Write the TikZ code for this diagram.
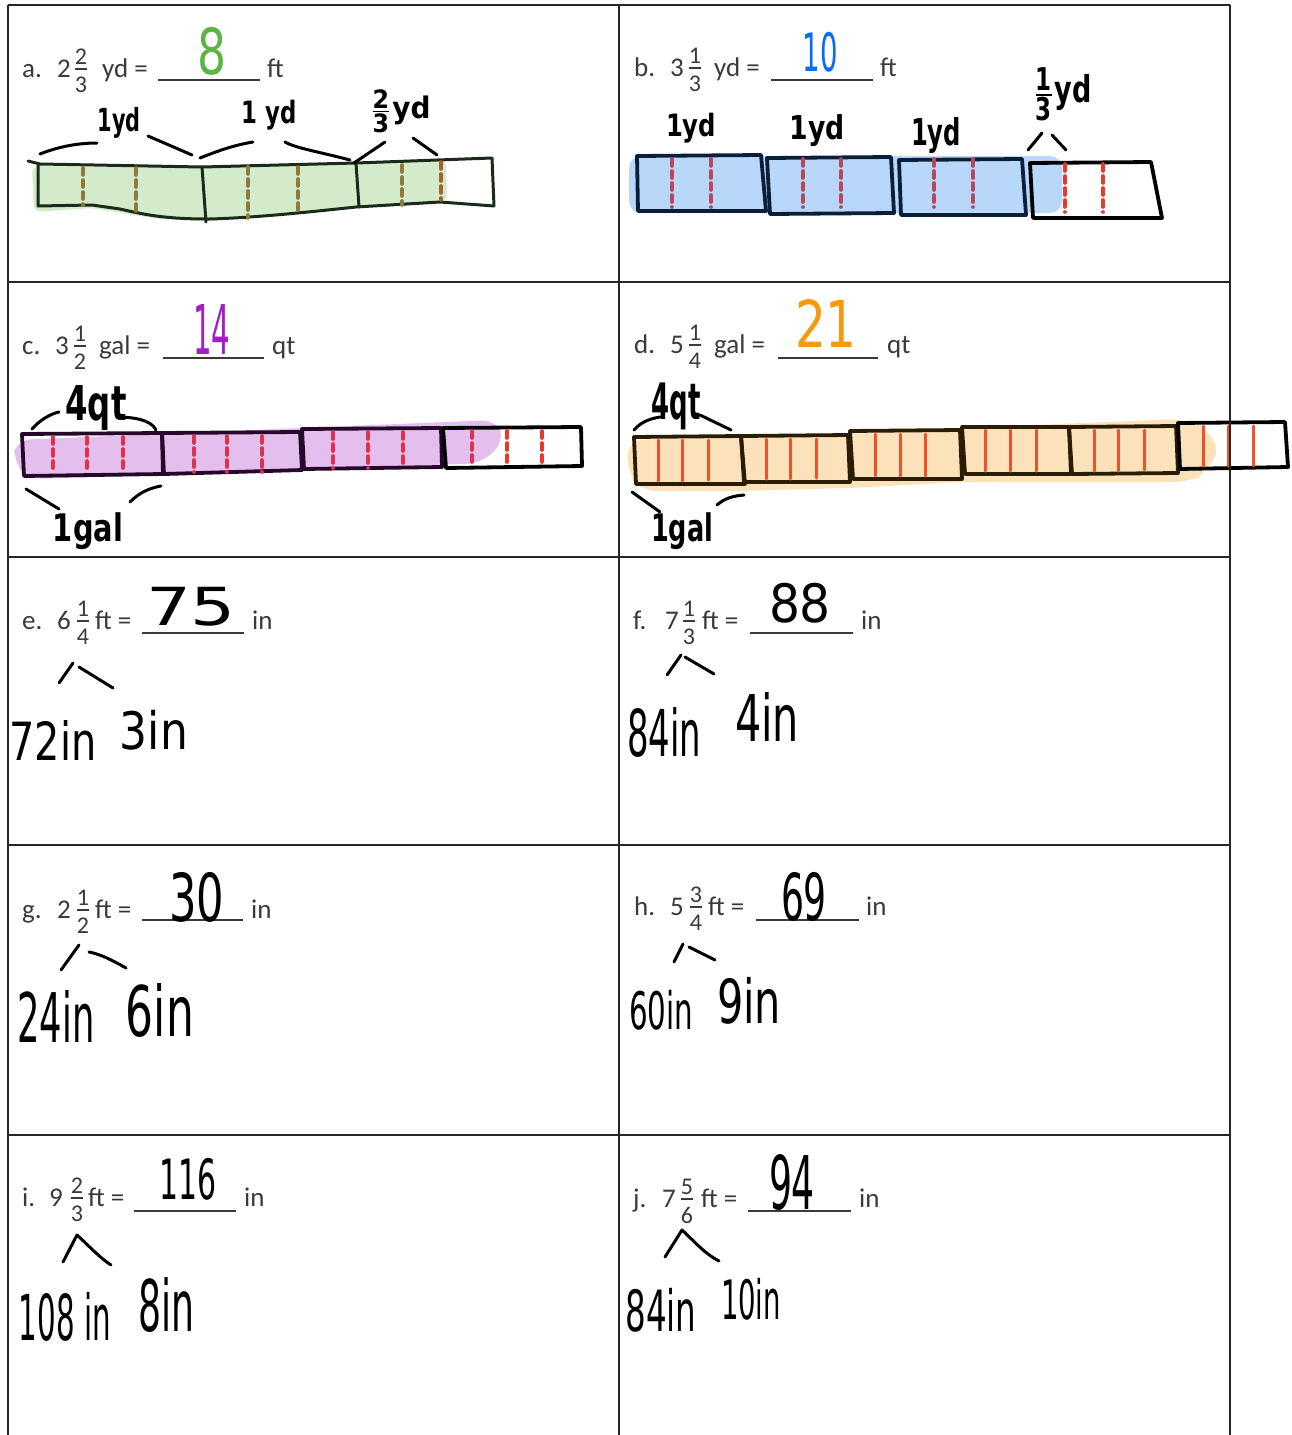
\documentclass[tikz,border=0pt]{standalone}
\usepackage{fontspec}
\usepackage{graphicx}
\setmainfont{Carlito}
\newfontfamily\handf{DejaVu Sans Condensed}
\definecolor{tg}{HTML}{3A3A3A}
\definecolor{ansG}{HTML}{5BB544}
\definecolor{ansB}{HTML}{0A6EF0}
\definecolor{ansP}{HTML}{A31CC4}
\definecolor{ansO}{HTML}{F59A0C}
\definecolor{gfill}{HTML}{D3EACB}
\definecolor{gline}{HTML}{1B2B1B}
\definecolor{olivec}{HTML}{8E7B3C}
\definecolor{rustb}{HTML}{A4622E}
\definecolor{bfill}{HTML}{B9D7F9}
\definecolor{navyc}{HTML}{0B1E3A}
\definecolor{maroonr}{HTML}{B8465E}
\definecolor{redr}{HTML}{E8382B}
\definecolor{pfill}{HTML}{E4BEEC}
\definecolor{plum}{HTML}{26082A}
\definecolor{crim}{HTML}{E0304E}
\definecolor{ofill}{HTML}{FCE2BA}
\definecolor{obrown}{HTML}{2B1C06}
\definecolor{oline}{HTML}{F0502A}
\newcommand\pfont{\fontsize{27}{32}\selectfont}
\newcommand\frfont{\fontsize{24}{27}\selectfont}
\newcommand\hw[3]{\resizebox*{#1pt}{#2pt}{\handf #3}}
\newcommand\hwb[3]{\resizebox*{#1pt}{#2pt}{\handf\bfseries #3}}
\newcommand\stk[2]{\scalebox{0.85}{$\frac{\mbox{\handf\bfseries #1}}{\mbox{\handf\bfseries #2}}$}}
\tikzset{
  gridl/.style={draw=black!85, line width=1.6pt},
  ptxt/.style={font=\pfont, text=tg, inner sep=0, anchor=base west},
  frtxt/.style={font=\frfont, text=tg, inner sep=0},
  fbar/.style={draw=tg, line width=1.6pt},
  uline/.style={draw=tg, line width=1.4pt},
  hand/.style={inner sep=0, text=black},
  ink/.style={draw=black, line width=3pt, line cap=round, line join=round},
  boxk/.style={line width=3.8pt, line join=round, line cap=round},
  dashk/.style={line width=3.6pt, dash pattern=on 7pt off 5pt, line cap=round},
  solk/.style={line width=3pt, draw=oline, line cap=round},
}
% question row: id, label x, baseline, label, whole x, whole, frac cx, num, den
\newcommand\qrow[9]{%
  \node[ptxt] (#1lab) at (#2,#3) {#4};
  \node[ptxt] (#1whole) at (#5,#3) {#6};
  \node[frtxt, anchor=south] (#1num) at (#7,#3-12) {#8};
  \node[frtxt, anchor=north] (#1den) at (#7,#3) {#9};
  \draw[fbar] (#7-6,#3-8) -- (#7+6,#3-8);
}
% rest: id, text x, baseline, text, ul x1, ul x2, ul y, unit x, unit
\newcommand\qrest[9]{%
  \node[ptxt] (#1eq) at (#2,#3) {#4};
  \draw[uline] (#5,#7) -- (#6,#7);
  \node[ptxt] (#1unit) at (#8,#3) {#9};
}
\begin{document}
\begin{tikzpicture}[x=1pt,y=-1pt]
\useasboundingbox (0,0) rectangle (1291,1435);
\fill[white] (0,0) rectangle (1291,1435);

% ================= BAR DIAGRAMS (drawn first) =================
% ---- a ----
\fill[gfill, rounded corners=7] (32,166) -- (202,168) -- (356,164) -- (446,160) -- (447,201) -- (356,208) -- (209,221) -- (158,219) -- (92,208) -- (34,212) -- cycle;
\draw[boxk, draw=gline, line width=3pt] (28,161) -- (40,164) -- (202,167) -- (356,163) -- (492,158) -- (494,206) -- (440,202) -- (356,207) .. controls (300,213) and (250,218) .. (209,219) .. controls (170,219) and (150,216) .. (120,209) -- (92,205) -- (38,206) -- (38,164);
\draw[boxk, draw=gline, line width=3pt] (202,167) -- (206,222);
\draw[boxk, draw=gline, line width=3pt] (356,163) -- (359,207);
\foreach \x/\a/\b in {83/168/205, 136/168/215, 248/167/218, 298/167/210, 402/165/205}
  \draw[dashk, draw=olivec] (\x,\a) -- (\x,\b);
\draw[dashk, draw=rustb] (441,162) -- (441,200);
\draw[ink] (40,154) .. controls (60,146) and (80,143) .. (97,143);
\draw[ink] (148,136) -- (192,155);
\draw[ink] (200,158) .. controls (220,150) and (235,145) .. (253,142);
\draw[ink] (285,142) .. controls (295,148) and (320,152) .. (350,160);
\draw[ink] (354,163) -- (385,142);
\draw[ink] (413,138) -- (437,155);
\node[hand] (a1yd) at (119,123) {\hwb{43}{31}{1yd}};
\node[hand] (a2yd) at (269,115) {\hwb{55}{30}{1 yd}};
\node[hand] (a3yd) at (400,111) {\hwb{61}{43}{\stk{2}{3}yd}};

% ---- b ----
\fill[bfill, rounded corners=12] (629,156) rectangle (1062,213);
\draw[boxk, draw=navyc] (637,156) -- (761,155) -- (766,211) -- (638,211) -- cycle;
\draw[boxk, draw=navyc] (767,158) -- (891,157) -- (894,213) -- (770,214) -- cycle;
\draw[boxk, draw=navyc] (899,160) -- (1022,159) -- (1026,215) -- (901,215) -- cycle;
\draw[boxk, draw=black] (1030,163) -- (1151,162) -- (1162,218) -- (1033,218) -- cycle;
\foreach \x in {672,711,803,841,934,973}
  \draw[dashk, draw=maroonr] (\x,159) -- (\x,207);
\foreach \x in {1065,1103}
  \draw[dashk, draw=redr] (\x,164) -- (\x,212);
\draw[ink] (1028,150) -- (1042,133);
\draw[ink] (1052,135) -- (1066,150);
\node[hand] (b1yd) at (691,128) {\hwb{50}{30}{1yd}};
\node[hand] (b2yd) at (817,131) {\hwb{55}{32}{1yd}};
\node[hand] (b3yd) at (936,135) {\hwb{50}{36}{1yd}};
\node[hand] (b4yd) at (1062,94) {\hwb{59}{53}{\stk{1}{3}yd}};

% ---- c ----
\fill[pfill, rounded corners=14] (16,440) -- (300,428) -- (496,420) -- (505,440) -- (482,463) -- (300,471) -- (30,479) -- (13,462) -- cycle;
\draw[boxk, draw=plum] (22,434) -- (162,433) -- (163,474) -- (24,476) -- cycle;
\draw[boxk, draw=plum] (162,433) -- (300,432) -- (302,470) -- (164,474) -- cycle;
\draw[boxk, draw=plum] (302,429) -- (441,428) -- (442,467) -- (304,469) -- cycle;
\draw[boxk, draw=black] (443,428) -- (581,427) -- (582,466) -- (446,468) -- cycle;
\foreach \x/\a/\b in {53/437/473, 87/437/473, 123/437/473, 194/436/472, 227/436/472, 262/436/472, 333/432/468, 368/432/468, 403/432/467, 472/431/466}
  \draw[dashk, draw=crim] (\x,\a) -- (\x,\b);
\foreach \x in {507,542}
  \draw[dashk, draw=redr] (\x,431) -- (\x,466);
\draw[ink] (32,429) .. controls (40,420) and (50,414) .. (59,412);
\draw[ink] (121,417) .. controls (145,418) and (153,424) .. (156,430);
\draw[ink] (26,489) -- (59,509);
\draw[ink] (130,502) .. controls (140,492) and (150,488) .. (161,486);
\node[hand] (c4qt) at (96,408) {\hwb{61}{45}{4qt}};
\node[hand] (c1gal) at (88,531) {\hwb{70}{37}{1gal}};

% ---- d ----
\fill[ofill, rounded corners=16] (628,440) -- (760,436) -- (850,434) -- (962,428) -- (1180,419) -- (1208,424) -- (1209,472) -- (1190,482) -- (962,482) -- (850,488) -- (740,491) -- (640,491) -- (627,470) -- cycle;
\foreach \cx/\cy/\r in {745/460/22, 852/462/22, 1062/455/20, 1178/445/24, 1196/450/20}
  \fill[ofill] (\cx,\cy) circle[radius=\r];
\draw[boxk, draw=obrown] (634,437) -- (741,436) -- (745,484) -- (636,484) -- cycle;
\draw[boxk, draw=obrown] (741,436) -- (848,435) -- (850,482) -- (744,482) -- cycle;
\draw[boxk, draw=obrown] (850,431) -- (960,430) -- (962,479) -- (853,479) -- cycle;
\draw[boxk, draw=obrown] (962,427) -- (1069,427) -- (1071,474) -- (965,474) -- cycle;
\draw[boxk, draw=obrown] (1069,427) -- (1176,426) -- (1178,473) -- (1072,474) -- cycle;
\draw[boxk, draw=black] (1178,423) -- (1285,422) -- (1288,467) -- (1180,469) -- cycle;
\foreach \x/\a/\b in {658/440/481, 682/440/481, 708/440/480, 766/439/479, 790/439/479, 816/439/478, 875/434/476, 900/434/476, 925/434/476, 985/430/471, 1010/430/471, 1036/430/471, 1094/430/471, 1118/430/471, 1144/430/470, 1203/426/466, 1228/426/466, 1253/426/466}
  \draw[solk] (\x,\a) -- (\x,\b);
\draw[ink] (634,430) .. controls (640,423) and (648,419) .. (660,417);
\draw[ink] (700,415) -- (731,430);
\draw[ink] (632,492) -- (660,512);
\draw[ink] (717,505) .. controls (725,498) and (733,496) .. (744,495);
\node[hand] (d4qt) at (676,406) {\hwb{49}{47}{4qt}};
\node[hand] (d1gal) at (682,531) {\hwb{62}{37}{1gal}};

% ================= TABLE GRID =================
\foreach \y in {5,282,557,845,1135}
  \draw[gridl] (8,\y) -- (1230,\y);
\foreach \x in {8,619,1230}
  \draw[gridl] (\x,5) -- (\x,1435);

% ================= PRINTED QUESTIONS =================
\qrow{a}{22}{77}{a.}{57}{2}{81}{2}{3}
\qrest{a}{102}{77}{yd =}{158}{260}{80}{267}{ft}
\qrow{b}{634}{76}{b.}{670}{3}{695}{1}{3}
\qrest{b}{714}{76}{yd =}{771}{873}{80}{880}{ft}
\qrow{c}{22}{354}{c.}{55}{3}{80}{1}{2}
\qrest{c}{99}{354}{gal =}{163}{264}{358}{272}{qt}
\qrow{d}{634}{353}{d.}{670}{5}{695}{1}{4}
\qrest{d}{714}{353}{gal =}{778}{878}{358}{887}{qt}
\qrow{e}{22}{629}{e.}{57}{6}{83}{1}{4}
\qrest{e}{95}{629}{ft =}{142}{244}{633}{252}{in}
\qrow{f}{633}{629}{f.}{665}{7}{689}{1}{3}
\qrest{f}{702}{629}{ft =}{750}{853}{633}{861}{in}
\qrow{g}{22}{918}{g.}{57}{2}{83}{1}{2}
\qrest{g}{95}{918}{ft =}{142}{243}{920}{251}{in}
\qrow{h}{634}{915}{h.}{670}{5}{696}{3}{4}
\qrest{h}{708}{915}{ft =}{756}{859}{920}{866}{in}
\qrow{i}{22}{1206}{i.}{49}{9}{77}{2}{3}
\qrest{i}{88}{1206}{ft =}{134}{236}{1211}{244}{in}
\qrow{j}{633}{1207}{j.}{662}{7}{687}{5}{6}
\qrest{j}{701}{1207}{ft =}{748}{851}{1211}{859}{in}

% ================= HANDWRITTEN ANSWERS =================
\node[hand, text=ansG] (ansa) at (212,51) {\hw{29}{48}{8}};
\node[hand, text=ansB] (ansb) at (820,52) {\hw{35}{40}{10}};
\node[hand, text=ansP] (ansc) at (212,329) {\hw{37}{50}{14}};
\node[hand, text=ansO] (ansd) at (826,323) {\hw{62}{48}{21}};
\node[hand] (anse) at (191,607) {\hw{90}{39}{75}};
\node[hand] (ansf) at (800,603) {\hw{62}{40}{88}};
\node[hand] (ansg) at (197,897) {\hw{55}{50}{30}};
\node[hand] (ansh) at (804,897) {\hw{46}{49}{69}};
\node[hand] (ansi) at (188,1179) {\hw{57}{42}{116}};
\node[hand] (ansj) at (792,1183) {\hw{46}{56}{94}};

% ================= BREAKDOWNS =================
\draw[ink] (59,683) -- (73,663);
\draw[ink] (79,667) -- (113,688);
\node[hand] (e72) at (53,740) {\hw{87}{40}{72in}};
\node[hand] (e3) at (154,730) {\hw{68}{40}{3in}};

\draw[ink] (667,675) -- (681,655);
\draw[ink] (685,657) -- (714,674);
\node[hand] (f84) at (664,732) {\hw{74}{50}{84in}};
\node[hand] (f4) at (767,717) {\hw{64}{49}{4in}};

\draw[ink] (61,970) -- (79,945);
\draw[ink] (89,952) .. controls (100,954) and (112,960) .. (126,968);
\node[hand] (g24) at (56,1016) {\hw{77}{52}{24in}};
\node[hand] (g6) at (160,1010) {\hw{68}{54}{6in}};

\draw[ink] (674,962) -- (683,944);
\draw[ink] (689,947) -- (715,960);
\node[hand] (h60) at (661,1010) {\hw{64}{40}{60in}};
\node[hand] (h9) at (749,1001) {\hw{64}{47}{9in}};

\draw[ink] (63,1262) -- (77,1235) .. controls (88,1245) and (100,1258) .. (111,1265);
\node[hand] (i108) at (65,1317) {\hw{92}{49}{108 in}};
\node[hand] (i8) at (166,1305) {\hw{56}{55}{8in}};

\draw[ink] (665,1257) -- (682,1230) .. controls (695,1242) and (705,1254) .. (719,1261);
\node[hand] (j84) at (661,1310) {\hw{71}{44}{84in}};
\node[hand] (j10) at (751,1299) {\hw{60}{42}{10in}};
\end{tikzpicture}
\end{document}
